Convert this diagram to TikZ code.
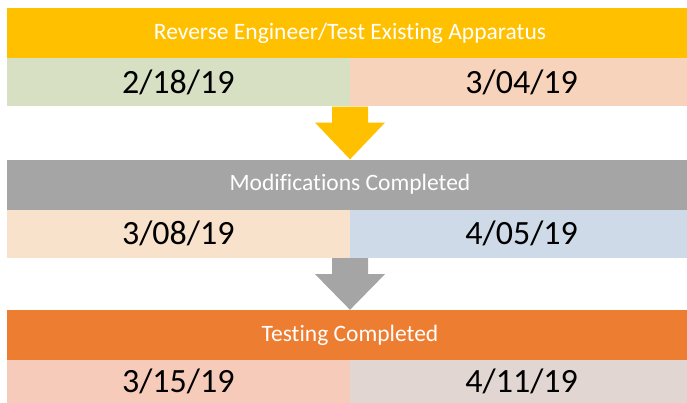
\documentclass[tikz,border=0pt]{standalone}
\usepackage{fontspec}
\setmainfont[Ligatures=NoCommon]{Carlito}
\usetikzlibrary{calc}

\definecolor{bandyellow}{HTML}{FFC000}
\definecolor{bandgray}{HTML}{A5A5A5}
\definecolor{bandorange}{HTML}{ED7D31}
\definecolor{cellgreen}{HTML}{D8E0C3}
\definecolor{cellpeach}{HTML}{F8D3BC}
\definecolor{cellcream}{HTML}{F9E2CC}
\definecolor{cellblue}{HTML}{CFDAE9}
\definecolor{cellsalmon}{HTML}{F7CBB9}
\definecolor{celltaupe}{HTML}{E1D6D2}

\begin{document}
\begin{tikzpicture}[x=1pt,y=-1pt,
        band/.style={inner sep=0pt, minimum width=686pt, minimum height=50pt,
                text=white, font=\fontsize{23.5}{28}\selectfont},
        datecell/.style={inner sep=0pt, minimum width=343pt,
                text=black, font=\fontsize{34}{40}\selectfont}]
        \useasboundingbox[fill=white] (0,0) rectangle (687,402);

        % the three stages
        \node[band, fill=bandyellow] (b1) at (350,33) {Reverse Engineer/Test Existing Apparatus};
        \node[band, fill=bandgray] (b2) at (350,184.5) {Modifications Completed};
        \node[band, fill=bandorange] (b3) at (350,335) {Testing Completed};

        % start and end dates below each stage
        \foreach \s/\h/\l/\r/\cl/\cr in {1/48/2\slash18\slash19/3\slash04\slash19/cellgreen/cellpeach,
                2/48/3\slash08\slash19/4\slash05\slash19/cellcream/cellblue,
                3/43/3\slash15\slash19/4\slash11\slash19/cellsalmon/celltaupe} {
                \node[datecell, minimum height=\h pt, fill=\cl, anchor=north east] (d\s l) at (b\s.south) {\l};
                \node[datecell, minimum height=\h pt, fill=\cr, anchor=north west] (d\s r) at (b\s.south) {\r};
            }

        % arrows from one stage down to the next
        \foreach \a/\b/\c in {d1l/b2/bandyellow, d2l/b3/bandgray} {
                \fill[\c] ($(\a.south east)+(-18,0)$) -- ($(\a.south east)+(18,0)$)
                    -- ($(\a.south east)+(18,16)$) -- ($(\a.south east)+(35,16)$)
                    -- (\b.north) -- ($(\a.south east)+(-35,16)$)
                    -- ($(\a.south east)+(-18,16)$) -- cycle;
            }
    \end{tikzpicture}
\end{document}
